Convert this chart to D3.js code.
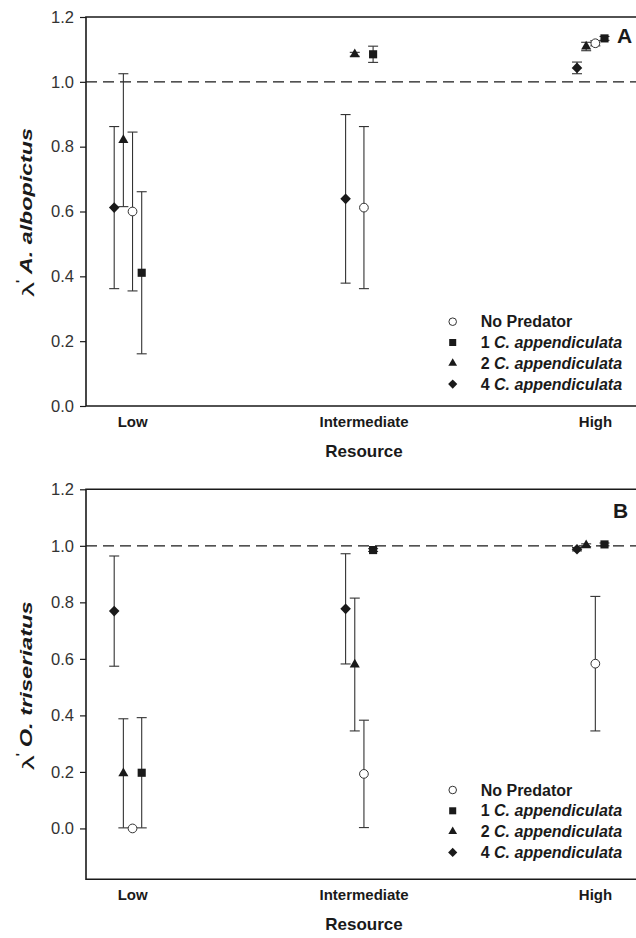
<!DOCTYPE html>
<html lang="en">
<head>
<meta charset="UTF-8">
<title>Lambda' by resource level</title>
<script src="https://d3js.org/d3.v7.min.js"></script>
<style>
    body { margin: 0; background: #fff; }
    svg { display: block; font-family: Arial, 'Liberation Sans', sans-serif; }
</style>
</head>
<body>
<div id="chart"></div>
<script>
    // categories
    const resources = ["Low", "Intermediate", "High"];
    const treatments = ["No Predator", "1", "2", "4"];
    const predatorName = "C. appendiculata";
    const yTicks = [0, 0.2, 0.4, 0.6, 0.8, 1.0, 1.2];

    // Panel A - A. albopictus (values for Low, Intermediate, High)
    const albNoPred = [0.600, 0.612, 1.119];
    const albNoPredSE = [0.245, 0.250, 0.008];
    const alb1 = [0.411, 1.085, 1.134];
    const alb1SE = [0.250, 0.025, 0.006];
    const alb2 = [0.820, 1.085, 1.109];
    const alb2SE = [0.205, 0.006, 0.013];
    const alb4 = [0.612, 0.639, 1.043];
    const alb4SE = [0.250, 0.260, 0.018];

    // Panel B - O. triseriatus
    const triNoPred = [0.000, 0.193, 0.583];
    const triNoPredSE = [0, 0.190, 0.238];
    const tri1 = [0.197, 0.985, 1.005];
    const tri1SE = [0.195, 0.005, 0.005];
    const tri2 = [0.195, 0.580, 1.002];
    const tri2SE = [0.193, 0.235, 0.005];
    const tri4 = [0.769, 0.777, 0.988];
    const tri4SE = [0.195, 0.195, 0.006];

    const panels = [
        { letter: "A", species: "A. albopictus", top: 17, bottom: 406, yMin: 0,
          means: [albNoPred, alb1, alb2, alb4], se: [albNoPredSE, alb1SE, alb2SE, alb4SE] },
        { letter: "B", species: "O. triseriatus", top: 489.3, bottom: 879.3, yMin: -0.18,
          means: [triNoPred, tri1, tri2, tri4], se: [triNoPredSE, tri1SE, tri2SE, tri4SE] }
    ];

    const W = 636, H = 938;
    const left = 86, right = 642;
    const ink = "#1a1a1a";

    const svg = d3.select("#chart").append("svg")
        .attr("width", W)
        .attr("height", H);

    const x = d3.scalePoint().domain(resources).range([132.7, 595.5]);
    // small dodge so the four treatments don't sit on top of each other
    const dodge = d3.scalePoint().domain(["4", "2", "No Predator", "1"]).range([-18.5, 9]);

    function symbolFor(t, small) {
        const k = small ? 0.75 : 1;
        if (t === "No Predator") return d3.symbol(d3.symbolCircle, 60 * k)();
        if (t === "1") return d3.symbol(d3.symbolSquare, 66 * k)();
        if (t === "2") return d3.symbol(d3.symbolTriangle, 44 * k)();
        return d3.symbol(d3.symbolSquare, 56 * k)();
    }
    const rot = t => t === "4" ? " rotate(45)" : "";
    const fillFor = t => t === "No Predator" ? "#fff" : ink;

    panels.forEach(p => {
        const g = svg.append("g");
        const y = d3.scaleLinear().domain([p.yMin, 1.2]).range([p.bottom, p.top]);

        // y axis
        const ax = g.append("g")
            .attr("transform", `translate(${left},0)`)
            .call(d3.axisLeft(y).tickValues(yTicks).tickFormat(d3.format(".1f")).tickSize(6).tickPadding(6));
        ax.select(".domain").remove();
        ax.selectAll("line").attr("stroke", ink).attr("stroke-width", 1.2);
        ax.selectAll("text").attr("font-size", "16.5px").attr("fill", "#333").attr("font-family", null);

        // frame: top, left, bottom
        g.append("path")
            .attr("d", `M${right},${p.top}H${left}V${p.bottom}H${right}`)
            .attr("fill", "none")
            .attr("stroke", ink)
            .attr("stroke-width", 1.6);

        // reference line at 1.0
        g.append("line")
            .attr("x1", left).attr("x2", right)
            .attr("y1", y(1)).attr("y2", y(1))
            .attr("stroke", ink)
            .attr("stroke-width", 1.3)
            .attr("stroke-dasharray", "11,6");

        const pts = [];
        treatments.forEach((t, i) => {
            resources.forEach((r, j) => {
                pts.push({ t: t, r: r, m: p.means[i][j], se: p.se[i][j] });
            });
        });

        // error bars
        const eb = g.selectAll(".eb").data(pts.filter(d => d.se > 0)).enter()
            .append("g")
            .attr("transform", d => `translate(${x(d.r) + dodge(d.t)},0)`)
            .attr("stroke", "#333")
            .attr("stroke-width", 1.1);
        eb.append("line").attr("y1", d => y(d.m - d.se)).attr("y2", d => y(d.m + d.se));
        eb.append("line").attr("x1", -5).attr("x2", 5).attr("y1", d => y(d.m - d.se)).attr("y2", d => y(d.m - d.se));
        eb.append("line").attr("x1", -5).attr("x2", 5).attr("y1", d => y(d.m + d.se)).attr("y2", d => y(d.m + d.se));

        // markers
        g.selectAll(".pt").data(pts).enter()
            .append("path")
            .attr("d", d => symbolFor(d.t))
            .attr("transform", d => `translate(${x(d.r) + dodge(d.t)},${y(d.m)})${rot(d.t)}`)
            .attr("fill", d => fillFor(d.t))
            .attr("stroke", d => d.t === "No Predator" ? "#333" : "none")
            .attr("stroke-width", 1);

        // category labels
        g.selectAll(".cat").data(resources).enter()
            .append("text")
            .attr("x", d => x(d))
            .attr("y", p.bottom + 21)
            .attr("text-anchor", "middle")
            .attr("font-size", "15px")
            .attr("font-weight", "bold")
            .attr("fill", ink)
            .text(d => d);

        g.append("text")
            .attr("x", 364)
            .attr("y", p.bottom + 51)
            .attr("text-anchor", "middle")
            .attr("font-size", "17px")
            .attr("font-weight", "bold")
            .attr("fill", ink)
            .text("Resource");

        // panel letter
        g.append("text")
            .attr("x", p.letter === "A" ? 617 : 613)
            .attr("y", p.top + (p.letter === "A" ? 26 : 29))
            .attr("font-size", "21px")
            .attr("font-weight", "bold")
            .attr("fill", ink)
            .text(p.letter);

        // y title, rotated: lambda prime + species name
        const yt = g.append("g")
            .attr("transform", `translate(34,${p.bottom - 109}) rotate(-90)`);
        yt.append("text")
            .attr("x", 0).attr("y", 0)
            .attr("font-size", "17px")
            .attr("textLength", 15)
            .attr("lengthAdjust", "spacingAndGlyphs")
            .attr("fill", ink)
            .text("λ");
        yt.append("text")
            .attr("x", 14).attr("y", -9)
            .attr("font-size", "13px")
            .attr("font-weight", "bold")
            .attr("fill", ink)
            .text("'");
        yt.append("text")
            .attr("x", 23).attr("y", -2)
            .attr("font-size", "16px")
            .attr("font-weight", "bold")
            .attr("font-style", "italic")
            .attr("textLength", 146)
            .attr("lengthAdjust", "spacingAndGlyphs")
            .attr("fill", ink)
            .text(p.species);

        // legend
        const lg = g.append("g")
            .attr("transform", `translate(0,${p.letter === "A" ? 321.7 : 790})`);
        const row = lg.selectAll(".row").data(treatments).enter()
            .append("g")
            .attr("transform", (d, i) => `translate(0,${i * 20.8})`);
        row.append("path")
            .attr("d", d => symbolFor(d, true))
            .attr("transform", d => `translate(452.7,0)${rot(d)}`)
            .attr("fill", d => fillFor(d))
            .attr("stroke", d => d === "No Predator" ? "#333" : "none");
        const lt = row.append("text")
            .attr("x", 480.7)
            .attr("y", 5.6)
            .attr("font-size", "16px")
            .attr("font-weight", "bold")
            .attr("fill", ink);
        lt.filter(d => d === "No Predator").text(d => d);
        lt.filter(d => d !== "No Predator").append("tspan").text(d => d + " ");
        lt.filter(d => d !== "No Predator").append("tspan").attr("font-style", "italic").text(predatorName);
    });
</script>
</body>
</html>
